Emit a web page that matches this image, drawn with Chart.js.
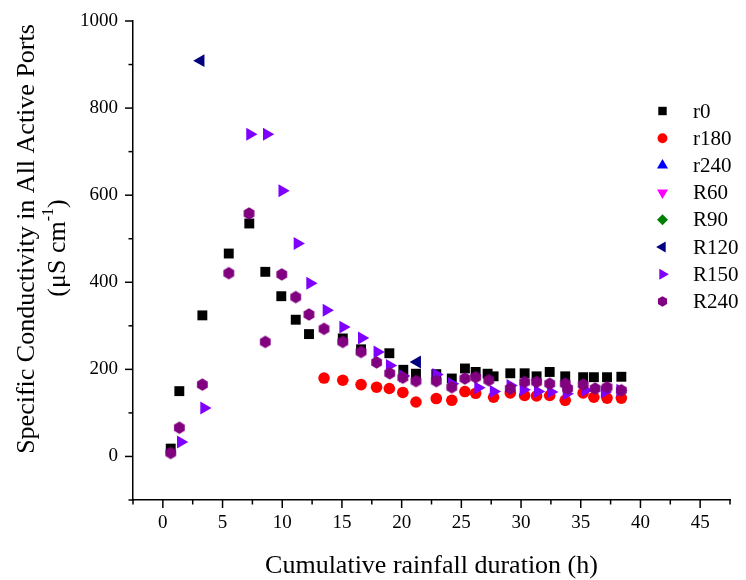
<!DOCTYPE html>
<html>
<head>
<meta charset="utf-8">
<script src="https://cdn.jsdelivr.net/npm/chart.js@4.4.1/dist/chart.umd.min.js"></script>
<style>
html,body{margin:0;padding:0;background:#fff;}
#wrap{width:746px;height:580px;position:relative;}
</style>
</head>
<body>
<div id="wrap"><canvas id="c" width="746" height="580"></canvas></div>
<script>
// ---------------- DATA ----------------
const seriesNames = ['r0', 'r180', 'r240', 'R60', 'R90', 'R120', 'R150', 'R240'];

const r0_x = [0.66, 1.38, 3.31, 5.52, 7.24, 8.58, 9.92, 11.13, 12.24, 15.07, 16.6, 18.97, 20.14, 21.2, 22.9, 24.2, 25.3, 26.2, 27.2, 27.7, 29.1, 30.3, 31.3, 32.4, 33.7, 35.2, 36.1, 37.2, 38.4];
const r0_y = [18, 150, 324, 466, 535, 424, 368, 314, 281, 271, 246, 237, 199, 190, 189, 179, 202, 194, 190, 184, 191, 191, 184, 194, 184, 182, 182, 182, 183];

const r180_x = [13.5, 15.07, 16.6, 17.9, 18.97, 20.1, 21.2, 22.9, 24.2, 25.3, 26.2, 27.7, 29.1, 30.3, 31.3, 32.4, 33.7, 35.2, 36.1, 37.2, 38.4];
const r180_y = [180, 175, 165, 159, 156, 147, 125, 133, 129, 149, 145, 136, 146, 140, 139, 140, 129, 146, 136, 134, 134];

const r240_x = [];
const r240_y = [];
const R60_x = [];
const R60_y = [];
const R90_x = [];
const R90_y = [];

const R120_x = [3.17, 21.3];
const R120_y = [909, 217];

const R150_x = [1.5, 3.45, 7.3, 8.7, 10.0, 11.27, 12.33, 13.7, 15.1, 16.66, 17.96, 19.0, 20.1, 22.9, 24.2, 26.4, 27.7, 29.1, 30.2, 31.4, 32.5, 33.8, 35.4, 37.0, 38.3];
const R150_y = [33, 111, 740, 740, 610, 489, 398, 336, 297, 272, 240, 209, 185, 188, 167, 158, 149, 163, 153, 149, 148, 144, 152, 148, 152];

const R240_x = [0.66, 1.38, 3.31, 5.52, 7.22, 8.58, 9.96, 11.13, 12.24, 13.5, 15.07, 16.6, 17.9, 19.0, 20.1, 21.2, 22.9, 24.2, 25.3, 26.2, 27.3, 29.1, 30.3, 31.3, 32.4, 33.7, 33.9, 35.2, 36.2, 37.2, 38.4];
const R240_y = [8, 66, 165, 421, 558, 263, 418, 366, 326, 293, 263, 240, 216, 191, 181, 173, 173, 159, 179, 182, 175, 156, 171, 171, 167, 167, 156, 165, 156, 159, 152];

const xTickLabels = [0, 5, 10, 15, 20, 25, 30, 35, 40, 45];
const yTickLabels = [0, 200, 400, 600, 800, 1000];

const xTitle = 'Cumulative rainfall duration (h)';
const yTitle1 = 'Specific Conductivity in All Active Ports';
const yTitle2 = '(\u03bcS cm';
const yTitleSup = '-1';

// ---------------- STYLE ----------------
const FONT = '"Liberation Serif", "Times New Roman", serif';
const colors = ['#000000', '#ff0000', '#0000ff', '#ff00ff', '#008000', '#000080', '#8000ff', '#800080'];
const styles = ['rect', 'circle', 'triangle', 'triangle', 'rectRot', 'triangle', 'triangle', 'hex'];
const rotations = [0, 0, 0, 180, 0, -90, 90, 0];
const radii = [7, 5.8, 7.5, 7.5, 6.5, 7.5, 7.5, 6.2];

function hexPath(ctx, x, y, r) {
  ctx.beginPath();
  for (let k = 0; k < 6; k++) {
    const a = Math.PI / 2 + k * Math.PI / 3;
    const px = x + r * Math.cos(a), py = y - r * Math.sin(a);
    if (k === 0) ctx.moveTo(px, py); else ctx.lineTo(px, py);
  }
  ctx.closePath();
}
function makeHex(r, color) {
  const s = Math.ceil(r * 2 + 2);
  const cv = document.createElement('canvas');
  cv.width = s; cv.height = s;
  const c = cv.getContext('2d');
  c.fillStyle = color;
  hexPath(c, s / 2, s / 2, r);
  c.fill();
  return cv;
}

function drawMarker(ctx, style, x, y, r, color, rot) {
  ctx.save();
  ctx.fillStyle = color;
  ctx.translate(x, y);
  ctx.rotate(rot * Math.PI / 180);
  ctx.beginPath();
  if (style === 'rect') {
    const s = r * Math.SQRT1_2;
    ctx.rect(-s, -s, 2 * s, 2 * s);
  } else if (style === 'circle') {
    ctx.arc(0, 0, r, 0, Math.PI * 2);
  } else if (style === 'triangle') {
    for (let k = 0; k < 3; k++) {
      const a = k * 2 * Math.PI / 3;
      const px = Math.sin(a) * r, py = -Math.cos(a) * r;
      if (k === 0) ctx.moveTo(px, py); else ctx.lineTo(px, py);
    }
    ctx.closePath();
  } else if (style === 'rectRot') {
    ctx.moveTo(0, -r); ctx.lineTo(r, 0); ctx.lineTo(0, r); ctx.lineTo(-r, 0); ctx.closePath();
  } else if (style === 'hex') {
    hexPath(ctx, 0, 0, r);
  }
  ctx.fill();
  ctx.restore();
}

const allX = [r0_x, r180_x, r240_x, R60_x, R90_x, R120_x, R150_x, R240_x];
const allY = [r0_y, r180_y, r240_y, R60_y, R90_y, R120_y, R150_y, R240_y];

const datasets = seriesNames.map((name, i) => ({
  label: name,
  data: allX[i].map((xv, j) => ({ x: xv, y: allY[i][j] })),
  pointStyle: styles[i] === 'hex' ? makeHex(radii[i], colors[i]) : styles[i],
  rotation: rotations[i],
  pointRadius: radii[i],
  pointHoverRadius: radii[i],
  backgroundColor: colors[i],
  borderColor: colors[i],
  borderWidth: 0,
  showLine: false,
  order: seriesNames.length - i
}));

const decor = {
  id: 'decor',
  afterDraw(chart) {
    const ctx = chart.ctx;
    const xs = chart.scales.x, ys = chart.scales.y;
    const area = chart.chartArea;
    ctx.save();
    ctx.strokeStyle = '#000';
    ctx.lineWidth = 1.5;
    // x ticks (outward)
    xs.ticks.forEach(t => {
      const px = xs.getPixelForValue(t.value);
      const major = xTickLabels.includes(t.value);
      ctx.beginPath();
      ctx.moveTo(px, area.bottom);
      ctx.lineTo(px, area.bottom + (major ? 8 : 4.5));
      ctx.stroke();
    });
    // y ticks (outward)
    ys.ticks.forEach(t => {
      const py = ys.getPixelForValue(t.value);
      const major = yTickLabels.includes(t.value);
      ctx.beginPath();
      ctx.moveTo(area.left, py);
      ctx.lineTo(area.left - (major ? 8 : 4.5), py);
      ctx.stroke();
    });
    ctx.fillStyle = '#000';
    // x title
    ctx.font = '26px ' + FONT;
    ctx.textAlign = 'center';
    ctx.textBaseline = 'middle';
    ctx.fillText(xTitle, (area.left + area.right) / 2, 566);
    // y title
    ctx.save();
    ctx.translate(27, 239);
    ctx.rotate(-Math.PI / 2);
    ctx.font = '26px ' + FONT;
    ctx.textAlign = 'center';
    ctx.fillText(yTitle1, 0, 0);
    ctx.restore();
    ctx.save();
    ctx.translate(58, 248);
    ctx.rotate(-Math.PI / 2);
    ctx.font = '26px ' + FONT;
    const w1 = ctx.measureText(yTitle2).width;
    ctx.font = '16px ' + FONT;
    const w2 = ctx.measureText(yTitleSup).width;
    ctx.font = '26px ' + FONT;
    const w3 = ctx.measureText(')').width;
    let sx = -(w1 + w2 + w3) / 2;
    ctx.textAlign = 'left';
    ctx.textBaseline = 'middle';
    ctx.fillText(yTitle2, sx, 0);
    ctx.font = '16px ' + FONT;
    ctx.fillText(yTitleSup, sx + w1, -9);
    ctx.font = '26px ' + FONT;
    ctx.fillText(')', sx + w1 + w2, 0);
    ctx.restore();
    // legend
    ctx.font = '21px ' + FONT;
    ctx.textAlign = 'left';
    ctx.textBaseline = 'middle';
    chart.data.datasets.forEach((ds, i) => {
      const ly = 111 + i * 27.2;
      drawMarker(ctx, styles[i], 662.5, ly, radii[i] * 0.85, colors[i], rotations[i]);
      ctx.fillStyle = '#000';
      ctx.fillText(ds.label, 693, ly + 1);
    });
    ctx.restore();
  }
};

new Chart(document.getElementById('c'), {
  type: 'scatter',
  data: { datasets },
  options: {
    responsive: false,
    animation: false,
    layout: { padding: { top: 21, right: 16, bottom: 0, left: 0 } },
    plugins: { legend: { display: false }, tooltip: { enabled: false } },
    scales: {
      x: {
        type: 'linear',
        min: -2.5, max: 47.5,
        grid: { display: false },
        border: { display: true, color: '#000', width: 1.5 },
        ticks: {
          stepSize: 2.5,
          color: '#000',
          font: { family: FONT, size: 19 },
          padding: 4,
          maxRotation: 0,
          autoSkip: false,
          callback: v => xTickLabels.includes(v) ? String(v) : ''
        },
        afterFit: s => { s.height = 80; }
      },
      y: {
        type: 'linear',
        min: -100, max: 1000,
        grid: { display: false },
        border: { display: true, color: '#000', width: 1.5 },
        ticks: {
          stepSize: 100,
          color: '#000',
          font: { family: FONT, size: 19 },
          padding: 7,
          autoSkip: false,
          callback: v => yTickLabels.includes(v) ? String(v) : ''
        },
        afterFit: s => { s.width = 133; }
      }
    }
  },
  plugins: [decor]
});
</script>
</body>
</html>
